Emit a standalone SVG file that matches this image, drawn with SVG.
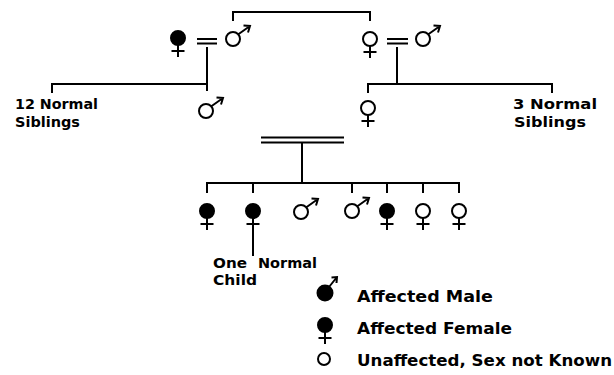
<svg xmlns="http://www.w3.org/2000/svg" xmlns:xlink="http://www.w3.org/1999/xlink" width="614" height="375" viewBox="0 0 614 375">
<style>
.ln{stroke:#000;stroke-width:2;fill:none;stroke-linecap:square}
.o{fill:#fff;stroke:#000;stroke-width:2}
.f{fill:#000;stroke:#000;stroke-width:2}
.s{stroke:#000;stroke-width:2;fill:none}
.t{font-family:"DejaVu Sans","Liberation Sans",sans-serif;font-weight:bold;font-size:14.5px;fill:#000}
.lg{font-size:16.5px}
</style>
<defs>
<g id="femO"><circle class="o" r="7"/><path class="s" d="M0,7V19M-6.5,13H6.5"/></g>
<g id="femF"><circle class="f" r="7"/><path class="s" d="M0,7V19M-6.5,13H6.5"/></g>
<g id="maleO"><circle class="o" r="7"/><path class="s" d="M5,-4.5L17,-13M10.5,-13.5L17,-13L15,-6.5"/></g>
</defs>
<rect width="614" height="375" fill="#fff"/>
<g id="connectors">
<path class="ln" d="M233,20V12H370V20"/>
<path class="ln" d="M198,39H216M198,43.5H216"/>
<path class="ln" d="M388,39H407M388,43.5H407"/>
<path class="ln" d="M207,48V90M52,92V84H207"/>
<path class="ln" d="M397,48V84M368,92V84H552V92"/>
<path class="ln" d="M262,137.5H343M262,142.5H343"/>
<path class="ln" d="M302,143V183M207,192V183H459V192M253,183V192M352,183V192M387,183V192M423,183V192"/>
<path class="ln" d="M253,231V255"/>
</g>
<g id="gp-female"><use xlink:href="#femF" x="178" y="38"/></g>
<g id="gp-male1"><use xlink:href="#maleO" x="233" y="39"/></g>
<g id="gp-female2"><use xlink:href="#femO" x="370" y="39"/></g>
<g id="gp-male2"><use xlink:href="#maleO" x="423" y="39"/></g>
<g id="father"><use xlink:href="#maleO" x="206" y="111"/></g>
<g id="mother"><use xlink:href="#femO" x="368" y="108"/></g>
<g id="sibs-left"><text class="t" x="15" y="109" textLength="83" lengthAdjust="spacingAndGlyphs">12 Normal</text><text class="t" x="15" y="127" textLength="65" lengthAdjust="spacingAndGlyphs">Siblings</text></g>
<g id="sibs-right"><text class="t" x="513" y="109" textLength="84" lengthAdjust="spacingAndGlyphs">3 Normal</text><text class="t" x="514" y="127" textLength="72" lengthAdjust="spacingAndGlyphs">Siblings</text></g>
<g id="c1"><use xlink:href="#femF" x="207" y="211"/></g>
<g id="c2"><use xlink:href="#femF" x="253" y="211"/></g>
<g id="c3"><use xlink:href="#maleO" x="301" y="212"/></g>
<g id="c4"><use xlink:href="#maleO" x="352" y="211"/></g>
<g id="c5"><use xlink:href="#femF" x="387" y="211"/></g>
<g id="c6"><use xlink:href="#femO" x="423" y="211"/></g>
<g id="c7"><use xlink:href="#femO" x="459" y="211"/></g>
<g id="c2-child"><text class="t" x="213" y="268" textLength="34" lengthAdjust="spacingAndGlyphs">One</text><text class="t" x="258" y="268" textLength="59" lengthAdjust="spacingAndGlyphs">Normal</text><text class="t" x="213" y="285" textLength="44" lengthAdjust="spacingAndGlyphs">Child</text></g>
<g id="legend-male"><circle class="f" cx="325" cy="293" r="7.5"/><path class="s" d="M329,287L337,277M331.5,277.5L337,277L336.5,283"/><text class="t lg" x="357" y="302" textLength="136" lengthAdjust="spacingAndGlyphs">Affected Male</text></g>
<g id="legend-female"><use xlink:href="#femF" x="325" y="325"/><text class="t lg" x="357" y="334" textLength="155" lengthAdjust="spacingAndGlyphs">Affected Female</text></g>
<g id="legend-unknown"><circle class="o" cx="324" cy="359" r="6"/><text class="t lg" x="357" y="366" textLength="255" lengthAdjust="spacingAndGlyphs">Unaffected, Sex not Known</text></g>
</svg>
